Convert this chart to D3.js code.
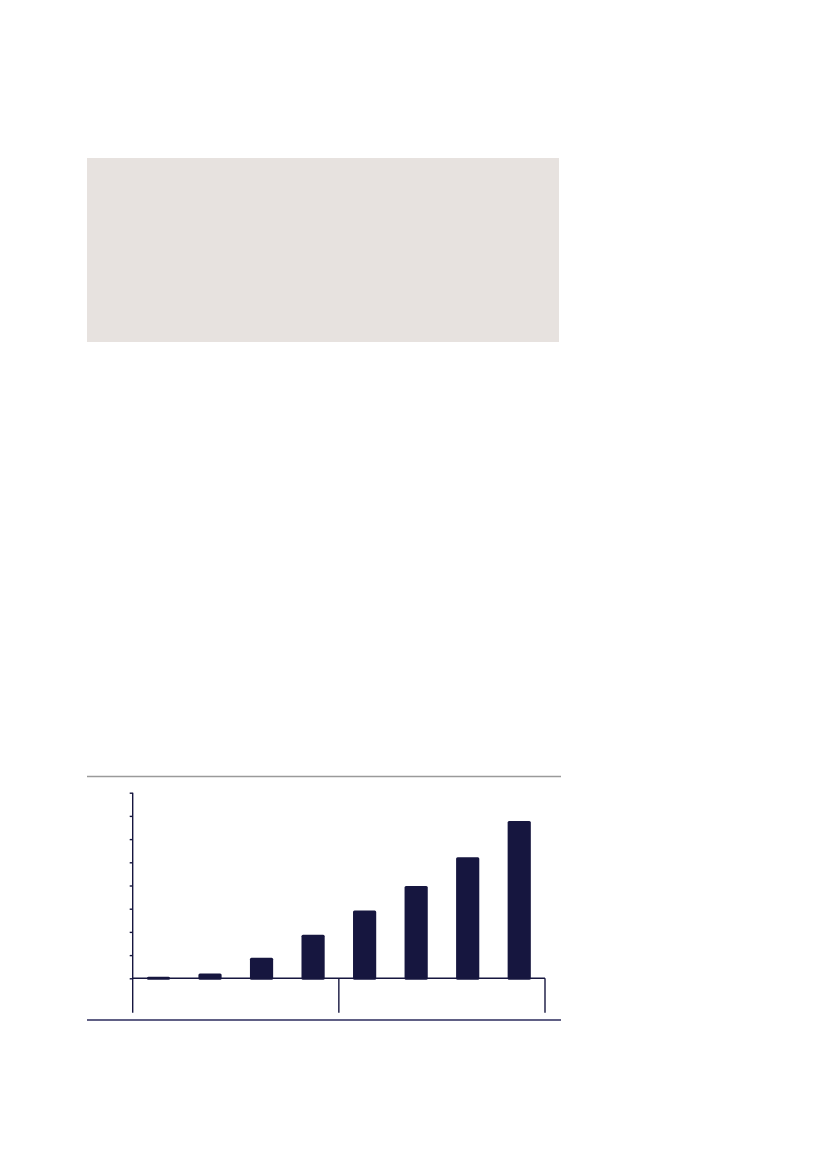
<!DOCTYPE html>
<html>
<head>
<meta charset="utf-8">
<script src="https://cdn.jsdelivr.net/npm/d3@7"></script>
<style>
  body { margin: 0; background: #fff; }
  svg { display: block; }
</style>
</head>
<body>
<div class="chart"></div>
<script>
// bar chart, two groups of four bars, no labels in the source
const width = 827
const height = 1169

const categories = ['a1', 'a2', 'a3', 'a4', 'b1', 'b2', 'b3', 'b4']
const groups = [['a1', 'a2', 'a3', 'a4'], ['b1', 'b2', 'b3', 'b4']]
const values = [0.05, 0.19, 0.86, 1.86, 2.9, 3.96, 5.2, 6.76]
const yTicks = [0, 1, 2, 3, 4, 5, 6, 7, 8]

const navy = '#16163f'

const svg = d3.select('.chart')
    .append('svg')
    .attr('width', width)
    .attr('height', height)
    .attr('viewBox', [0, 0, width, height])

// grey panel at top
svg.append('rect')
    .attr('x', 87).attr('y', 158)
    .attr('width', 472).attr('height', 184)
    .attr('fill', '#e7e2df')

// rules above and below the chart
svg.append('line')
    .attr('x1', 87).attr('x2', 561)
    .attr('y1', 776.5).attr('y2', 776.5)
    .attr('stroke', '#9a9a9a').attr('stroke-width', 1.6)
svg.append('line')
    .attr('x1', 87).attr('x2', 561)
    .attr('y1', 1020).attr('y2', 1020)
    .attr('stroke', '#2b2b5c').attr('stroke-width', 1.4)

const x = d3.scaleBand()
    .domain(categories)
    .range([132.7, 545])
    .paddingInner(0.55)
    .paddingOuter(0.275)

const y = d3.scaleLinear()
    .domain([0, 8])
    .range([978.3, 792.7])

const g = svg.append('g')

// bars
g.selectAll('rect.bar')
    .data(values)
    .enter().append('rect')
    .attr('class', 'bar')
    .attr('x', (d, i) => x(categories[i]))
    .attr('width', x.bandwidth())
    .attr('y', d => y(d) - 0.5)
    .attr('height', d => y(0) - y(d) + 2)
    .attr('rx', 1.5)
    .attr('fill', navy)

// y axis
const yAxis = d3.axisLeft(y)
    .tickValues(yTicks)
    .tickSize(3)
    .tickFormat('')
const ya = g.append('g')
    .attr('transform', 'translate(132.7,0)')
    .call(yAxis)
ya.select('.domain').remove()
ya.selectAll('.tick line').attr('stroke', navy).attr('stroke-width', 1.4)
g.append('line')
    .attr('x1', 132.7).attr('x2', 132.7)
    .attr('y1', y(8)).attr('y2', 1012.7)
    .attr('stroke', navy).attr('stroke-width', 1.4)

// x axis line and group separators
g.append('line')
    .attr('x1', 132.7).attr('x2', 545)
    .attr('y1', y(0)).attr('y2', y(0))
    .attr('stroke', navy).attr('stroke-width', 1.4)

const step = x.step()
groups.forEach(grp => {
    const last = grp[grp.length - 1]
    const sx = x(last) + x.bandwidth() + (step - x.bandwidth()) / 2
    g.append('line')
        .attr('x1', sx).attr('x2', sx)
        .attr('y1', y(0)).attr('y2', 1012.7)
        .attr('stroke', navy).attr('stroke-width', 1.4)
})
</script>
</body>
</html>
